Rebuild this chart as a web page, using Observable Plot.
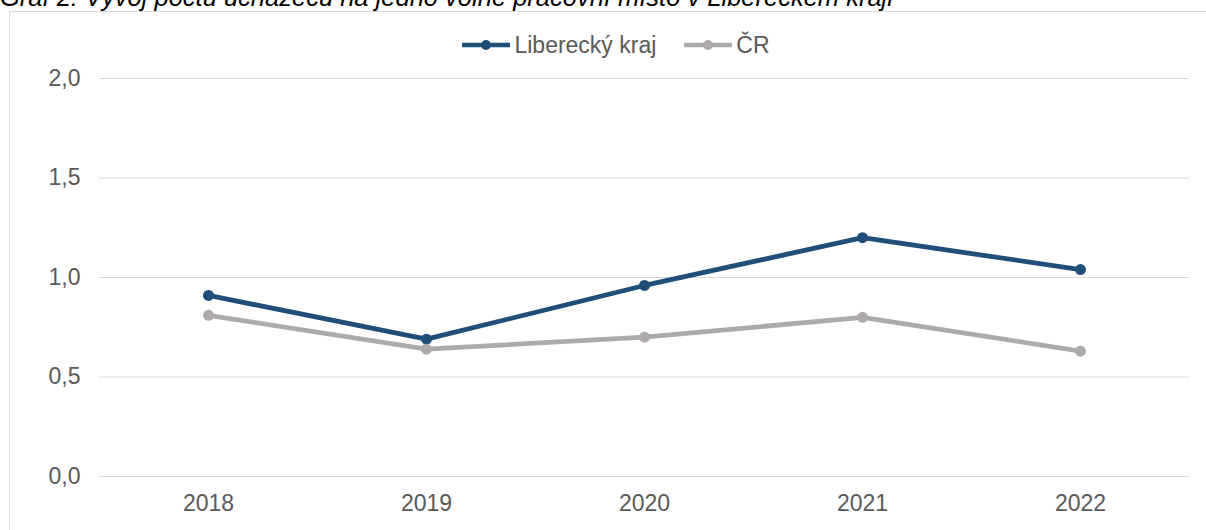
<!DOCTYPE html>
<html>
<head>
<meta charset="utf-8">
<script src="https://cdn.jsdelivr.net/npm/d3@7"></script>
<script src="https://cdn.jsdelivr.net/npm/@observablehq/plot@0.6"></script>
<style>
  html, body { margin: 0; padding: 0; background: #fff; overflow: hidden; }
  #wrap { position: relative; width: 1206px; height: 530px; font-family: "Liberation Sans", Arial, sans-serif; }
  #title { position: absolute; left: 0; top: -14.6px; font-size: 25.5px; line-height: 25.5px; font-style: italic; color: #000; white-space: nowrap; }
  #frame { position: absolute; left: 9px; top: 11px; width: 1300px; height: 600px; border-left: 1px solid #d9d9d9; border-top: 1px solid #d9d9d9; }
  #legend { position: absolute; left: 0; width: 1206px; top: 31px; height: 28px; display: flex; justify-content: center; align-items: center; font-size: 23px; color: #595959; padding-left: 26px; box-sizing: border-box; }
  .item { display: flex; align-items: center; margin: 0 14px; }
  .item svg { margin-right: 4px; }
  #chart { position: absolute; left: 0; top: 62px; }
</style>
</head>
<body>
<div id="wrap">
  <div id="title">Graf 2: Vývoj počtu uchazečů na jedno volné pracovní místo v Libereckém kraji</div>
  <div id="frame"></div>
  <div id="legend"></div>
  <div id="chart"></div>
</div>
<script>
const years = ["2018", "2019", "2020", "2021", "2022"];
const liberec = [0.91, 0.69, 0.96, 1.20, 1.04];
const cr = [0.81, 0.64, 0.70, 0.80, 0.63];
const seriesNames = ["Liberecký kraj", "ČR"];
const seriesColors = ["#1f4e79", "#aeaaaa"];
const yTicks = [0, 0.5, 1.0, 1.5, 2.0];

const data = [];
years.forEach((y, i) => {
  data.push({year: y, value: liberec[i], series: seriesNames[0]});
  data.push({year: y, value: cr[i], series: seriesNames[1]});
});

// Legend
const legend = document.getElementById("legend");
seriesNames.forEach((name, i) => {
  const item = document.createElement("div");
  item.className = "item";
  item.innerHTML = `<svg width="48" height="12"><line x1="0" y1="6" x2="48" y2="6" stroke="${seriesColors[i]}" stroke-width="4.5"/><circle cx="24" cy="6" r="5" fill="${seriesColors[i]}"/></svg><span>${name}</span>`;
  legend.appendChild(item);
});

const chart = Plot.plot({
  width: 1206,
  height: 468,
  marginLeft: 99,
  marginRight: 17,
  marginTop: 16,
  marginBottom: 54,
  style: { fontFamily: "'Liberation Sans', Arial, sans-serif", fontSize: "23px", color: "#595959", background: "transparent", overflow: "visible" },
  x: { type: "point", domain: years, padding: 0.5, label: null },
  y: { domain: [0, 2], label: null },
  color: { domain: seriesNames, range: seriesColors },
  marks: [
    Plot.gridY(yTicks, { stroke: "#d9d9d9", strokeOpacity: 1, strokeWidth: 1 }),
    Plot.axisY({ ticks: yTicks, tickSize: 0, tickPadding: 19, tickFormat: d => d.toFixed(1).replace(".", ","), label: null, fill: "#595959" }),
    Plot.axisX({ tickSize: 0, tickPadding: 18, label: null, fill: "#595959" }),
    Plot.line(data, { x: "year", y: "value", z: "series", stroke: "series", strokeWidth: 4.8, strokeLinejoin: "round" }),
    Plot.dot(data, { x: "year", y: "value", fill: "series", r: 5.5 })
  ]
});
document.getElementById("chart").appendChild(chart);
</script>
</body>
</html>
